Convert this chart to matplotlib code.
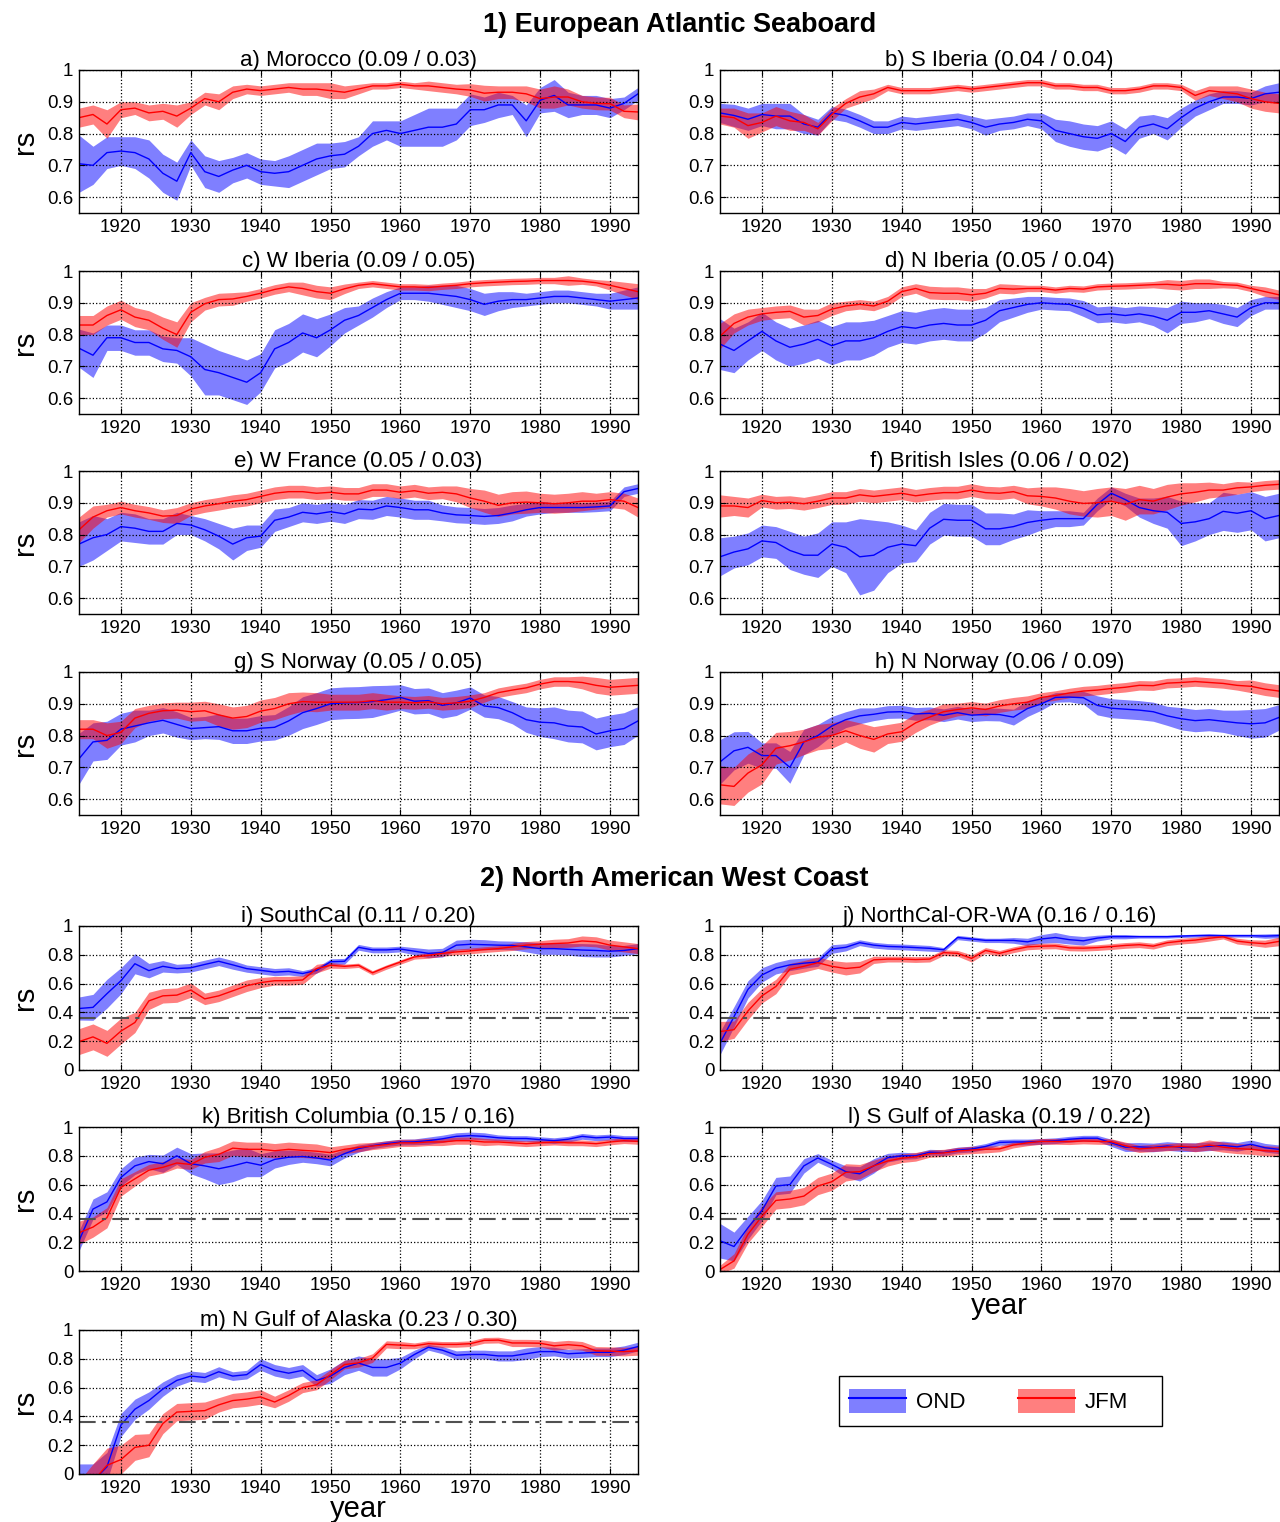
import matplotlib
matplotlib.use("Agg")
import matplotlib.pyplot as plt
import numpy as np
from matplotlib.patches import Patch, Rectangle
from matplotlib.lines import Line2D

plt.rcParams['font.family'] = ['Liberation Sans', 'DejaVu Sans']

# years sampled every 2 years, 1914..1994
years = np.arange(1914, 1995, 2)

# ---- 1) European Atlantic Seaboard ----
a_ond = [0.705, 0.70, 0.74, 0.745, 0.74, 0.72, 0.675, 0.65, 0.74, 0.68, 0.665, 0.685, 0.70, 0.68, 0.675, 0.68, 0.70, 0.72, 0.73, 0.735, 0.76,
         0.80, 0.81, 0.80, 0.81, 0.82, 0.82, 0.83, 0.875, 0.875, 0.89, 0.89, 0.84, 0.905, 0.92, 0.89, 0.89, 0.89, 0.88, 0.895, 0.925]
a_ond_hw = [0.09, 0.06, 0.05, 0.045, 0.05, 0.06, 0.06, 0.06, 0.04, 0.05, 0.05, 0.04, 0.04, 0.04, 0.04, 0.05, 0.05, 0.05, 0.04, 0.04, 0.03,
            0.04, 0.03, 0.04, 0.05, 0.06, 0.06, 0.05, 0.05, 0.04, 0.04, 0.03, 0.05, 0.04, 0.05, 0.04, 0.03, 0.03, 0.03, 0.02, 0.02]
a_jfm = [0.85, 0.86, 0.83, 0.875, 0.88, 0.865, 0.87, 0.855, 0.88, 0.91, 0.90, 0.93, 0.94, 0.935, 0.94, 0.945, 0.94, 0.94, 0.935, 0.93, 0.94,
         0.95, 0.95, 0.955, 0.95, 0.95, 0.945, 0.94, 0.937, 0.927, 0.93, 0.93, 0.925, 0.91, 0.915, 0.915, 0.90, 0.895, 0.894, 0.87, 0.868]
a_jfm_hw = [0.03, 0.03, 0.045, 0.025, 0.02, 0.025, 0.025, 0.035, 0.02, 0.02, 0.025, 0.02, 0.015, 0.015, 0.015, 0.015, 0.02, 0.02, 0.025, 0.02, 0.015,
            0.01, 0.01, 0.01, 0.01, 0.015, 0.015, 0.015, 0.02, 0.025, 0.02, 0.02, 0.025, 0.03, 0.035, 0.025, 0.02, 0.02, 0.02, 0.02, 0.025]

b_ond = [0.865, 0.857, 0.845, 0.86, 0.855, 0.855, 0.83, 0.82, 0.865, 0.857, 0.84, 0.82, 0.82, 0.835, 0.83, 0.835, 0.84, 0.845, 0.835, 0.82, 0.83,
         0.835, 0.845, 0.84, 0.81, 0.80, 0.79, 0.785, 0.80, 0.775, 0.82, 0.83, 0.815, 0.85, 0.88, 0.90, 0.915, 0.915, 0.91, 0.925, 0.93]
b_ond_hw = [0.03, 0.035, 0.035, 0.035, 0.04, 0.04, 0.03, 0.025, 0.02, 0.02, 0.02, 0.02, 0.02, 0.02, 0.02, 0.02, 0.02, 0.02, 0.02, 0.025, 0.02,
            0.02, 0.02, 0.025, 0.035, 0.04, 0.04, 0.04, 0.04, 0.04, 0.035, 0.03, 0.035, 0.03, 0.025, 0.025, 0.02, 0.02, 0.02, 0.025, 0.03]
b_jfm = [0.855, 0.85, 0.825, 0.835, 0.855, 0.84, 0.835, 0.815, 0.86, 0.895, 0.915, 0.925, 0.945, 0.935, 0.935, 0.935, 0.94, 0.945, 0.94, 0.945, 0.95,
         0.955, 0.96, 0.96, 0.95, 0.95, 0.945, 0.945, 0.935, 0.935, 0.94, 0.95, 0.95, 0.945, 0.92, 0.935, 0.93, 0.925, 0.91, 0.90, 0.895]
b_jfm_hw = [0.025, 0.03, 0.04, 0.03, 0.03, 0.03, 0.025, 0.02, 0.02, 0.015, 0.02, 0.015, 0.01, 0.01, 0.01, 0.01, 0.01, 0.01, 0.01, 0.01, 0.01,
            0.01, 0.01, 0.01, 0.01, 0.01, 0.01, 0.01, 0.01, 0.01, 0.01, 0.01, 0.01, 0.01, 0.015, 0.015, 0.02, 0.025, 0.03, 0.03, 0.03]

c_ond = [0.757, 0.735, 0.79, 0.79, 0.775, 0.775, 0.755, 0.75, 0.73, 0.69, 0.68, 0.665, 0.65, 0.68, 0.755, 0.775, 0.805, 0.79, 0.815, 0.845, 0.86,
         0.885, 0.91, 0.93, 0.93, 0.93, 0.925, 0.92, 0.91, 0.895, 0.905, 0.91, 0.91, 0.915, 0.92, 0.92, 0.915, 0.91, 0.905, 0.91, 0.915]
c_ond_hw = [0.06, 0.07, 0.04, 0.04, 0.04, 0.04, 0.04, 0.04, 0.06, 0.08, 0.07, 0.07, 0.07, 0.06, 0.06, 0.06, 0.06, 0.06, 0.05, 0.04, 0.03,
            0.03, 0.025, 0.02, 0.02, 0.025, 0.03, 0.035, 0.035, 0.035, 0.03, 0.025, 0.02, 0.02, 0.02, 0.02, 0.02, 0.02, 0.025, 0.03, 0.035]
c_jfm = [0.83, 0.83, 0.86, 0.878, 0.855, 0.845, 0.82, 0.80, 0.87, 0.897, 0.91, 0.912, 0.92, 0.93, 0.942, 0.95, 0.945, 0.935, 0.93, 0.944, 0.955,
         0.96, 0.955, 0.95, 0.95, 0.948, 0.952, 0.955, 0.96, 0.963, 0.965, 0.967, 0.968, 0.97, 0.97, 0.97, 0.968, 0.963, 0.955, 0.945, 0.935]
c_jfm_hw = [0.03, 0.03, 0.03, 0.03, 0.03, 0.03, 0.035, 0.04, 0.03, 0.02, 0.02, 0.02, 0.015, 0.015, 0.015, 0.015, 0.02, 0.02, 0.02, 0.015, 0.01,
            0.01, 0.01, 0.01, 0.01, 0.01, 0.01, 0.01, 0.01, 0.01, 0.01, 0.01, 0.01, 0.01, 0.01, 0.015, 0.01, 0.01, 0.015, 0.02, 0.025]

d_ond = [0.77, 0.75, 0.78, 0.81, 0.78, 0.76, 0.77, 0.785, 0.765, 0.78, 0.78, 0.79, 0.81, 0.825, 0.82, 0.83, 0.835, 0.83, 0.83, 0.845, 0.875,
         0.885, 0.895, 0.90, 0.897, 0.895, 0.882, 0.862, 0.865, 0.86, 0.865, 0.858, 0.845, 0.87, 0.87, 0.875, 0.865, 0.855, 0.885, 0.90, 0.90]
d_ond_hw = [0.08, 0.07, 0.06, 0.06, 0.06, 0.06, 0.06, 0.06, 0.06, 0.06, 0.06, 0.055, 0.05, 0.05, 0.05, 0.05, 0.05, 0.05, 0.05, 0.04, 0.035,
            0.03, 0.025, 0.02, 0.02, 0.02, 0.025, 0.025, 0.025, 0.025, 0.025, 0.03, 0.04, 0.035, 0.03, 0.025, 0.03, 0.03, 0.025, 0.02, 0.02]
d_jfm = [0.795, 0.835, 0.855, 0.865, 0.87, 0.873, 0.855, 0.86, 0.88, 0.89, 0.895, 0.89, 0.905, 0.935, 0.945, 0.932, 0.93, 0.93, 0.925, 0.93, 0.945,
         0.943, 0.945, 0.945, 0.94, 0.945, 0.943, 0.95, 0.952, 0.953, 0.955, 0.957, 0.958, 0.955, 0.96, 0.96, 0.957, 0.955, 0.945, 0.935, 0.925]
d_jfm_hw = [0.04, 0.03, 0.025, 0.02, 0.02, 0.02, 0.025, 0.02, 0.02, 0.015, 0.015, 0.015, 0.015, 0.015, 0.015, 0.02, 0.02, 0.02, 0.02, 0.015, 0.015,
            0.015, 0.01, 0.01, 0.01, 0.01, 0.01, 0.01, 0.01, 0.01, 0.01, 0.01, 0.015, 0.015, 0.015, 0.015, 0.01, 0.01, 0.01, 0.015, 0.015]

e_ond = [0.77, 0.79, 0.80, 0.825, 0.82, 0.81, 0.81, 0.835, 0.83, 0.815, 0.795, 0.77, 0.79, 0.795, 0.845, 0.855, 0.87, 0.865, 0.872, 0.865, 0.88,
         0.878, 0.89, 0.885, 0.878, 0.878, 0.868, 0.862, 0.86, 0.857, 0.86, 0.868, 0.878, 0.885, 0.885, 0.885, 0.885, 0.887, 0.89, 0.935, 0.945]
e_ond_hw = [0.07, 0.07, 0.05, 0.045, 0.045, 0.04, 0.04, 0.035, 0.03, 0.035, 0.04, 0.05, 0.04, 0.035, 0.035, 0.03, 0.03, 0.03, 0.03, 0.03, 0.03,
            0.03, 0.03, 0.03, 0.03, 0.03, 0.025, 0.025, 0.025, 0.025, 0.025, 0.025, 0.02, 0.02, 0.015, 0.015, 0.015, 0.015, 0.015, 0.015, 0.015]
e_jfm = [0.815, 0.855, 0.875, 0.885, 0.875, 0.868, 0.858, 0.86, 0.88, 0.89, 0.897, 0.905, 0.91, 0.92, 0.93, 0.935, 0.935, 0.93, 0.933, 0.928, 0.928,
         0.94, 0.94, 0.933, 0.938, 0.93, 0.933, 0.928, 0.915, 0.905, 0.892, 0.90, 0.902, 0.90, 0.897, 0.90, 0.905, 0.905, 0.91, 0.905, 0.885]
e_jfm_hw = [0.04, 0.035, 0.02, 0.02, 0.02, 0.02, 0.02, 0.025, 0.02, 0.02, 0.02, 0.02, 0.02, 0.02, 0.02, 0.02, 0.02, 0.02, 0.02, 0.02, 0.02,
            0.02, 0.02, 0.02, 0.02, 0.02, 0.02, 0.025, 0.03, 0.035, 0.035, 0.035, 0.035, 0.03, 0.03, 0.03, 0.03, 0.025, 0.025, 0.025, 0.03]

f_ond = [0.73, 0.745, 0.755, 0.78, 0.775, 0.75, 0.735, 0.735, 0.77, 0.76, 0.73, 0.735, 0.76, 0.77, 0.765, 0.82, 0.848, 0.845, 0.845, 0.818, 0.818,
         0.825, 0.838, 0.845, 0.85, 0.85, 0.85, 0.895, 0.93, 0.91, 0.885, 0.875, 0.87, 0.835, 0.84, 0.85, 0.873, 0.867, 0.875, 0.85, 0.86]
f_ond_hw = [0.06, 0.05, 0.05, 0.05, 0.05, 0.06, 0.06, 0.07, 0.07, 0.08, 0.12, 0.11, 0.08, 0.06, 0.05, 0.05, 0.05, 0.05, 0.05, 0.05, 0.05,
            0.04, 0.04, 0.03, 0.025, 0.025, 0.02, 0.02, 0.02, 0.02, 0.03, 0.04, 0.05, 0.07, 0.06, 0.05, 0.06, 0.06, 0.06, 0.07, 0.07]
f_jfm = [0.89, 0.89, 0.885, 0.907, 0.90, 0.902, 0.897, 0.905, 0.915, 0.915, 0.925, 0.92, 0.925, 0.93, 0.922, 0.928, 0.932, 0.932, 0.94, 0.932, 0.93,
         0.935, 0.922, 0.92, 0.915, 0.905, 0.898, 0.90, 0.905, 0.895, 0.91, 0.905, 0.918, 0.928, 0.933, 0.94, 0.94, 0.947, 0.95, 0.955, 0.958]
f_jfm_hw = [0.035, 0.03, 0.03, 0.02, 0.02, 0.02, 0.02, 0.02, 0.02, 0.02, 0.02, 0.02, 0.02, 0.02, 0.02, 0.02, 0.02, 0.02, 0.02, 0.02, 0.02,
            0.02, 0.025, 0.03, 0.035, 0.04, 0.04, 0.045, 0.045, 0.05, 0.045, 0.04, 0.04, 0.035, 0.03, 0.025, 0.02, 0.02, 0.015, 0.015, 0.015]

g_ond = [0.727, 0.78, 0.785, 0.82, 0.83, 0.84, 0.848, 0.835, 0.822, 0.825, 0.828, 0.815, 0.815, 0.823, 0.826, 0.846, 0.872, 0.885, 0.90, 0.903, 0.904,
         0.907, 0.913, 0.92, 0.908, 0.91, 0.895, 0.903, 0.918, 0.893, 0.888, 0.872, 0.85, 0.842, 0.84, 0.83, 0.827, 0.805, 0.815, 0.822, 0.846]
g_ond_hw = [0.08, 0.06, 0.06, 0.05, 0.05, 0.04, 0.04, 0.04, 0.035, 0.035, 0.04, 0.04, 0.04, 0.04, 0.04, 0.045, 0.05, 0.05, 0.05, 0.05, 0.05,
            0.05, 0.045, 0.04, 0.04, 0.04, 0.04, 0.04, 0.035, 0.035, 0.035, 0.035, 0.04, 0.045, 0.05, 0.05, 0.05, 0.05, 0.05, 0.05, 0.045]
g_jfm = [0.82, 0.82, 0.80, 0.81, 0.855, 0.87, 0.878, 0.88, 0.875, 0.878, 0.865, 0.855, 0.86, 0.877, 0.885, 0.90, 0.907, 0.905, 0.905, 0.905, 0.905,
         0.91, 0.905, 0.905, 0.903, 0.906, 0.90, 0.903, 0.908, 0.92, 0.935, 0.943, 0.95, 0.962, 0.97, 0.97, 0.967, 0.958, 0.952, 0.955, 0.958]
g_jfm_hw = [0.03, 0.03, 0.04, 0.035, 0.03, 0.025, 0.025, 0.025, 0.03, 0.03, 0.035, 0.035, 0.035, 0.035, 0.035, 0.035, 0.03, 0.03, 0.025, 0.025, 0.025,
            0.025, 0.025, 0.02, 0.02, 0.02, 0.02, 0.02, 0.02, 0.015, 0.015, 0.015, 0.015, 0.015, 0.015, 0.015, 0.02, 0.025, 0.025, 0.025, 0.025]

h_ond = [0.717, 0.752, 0.763, 0.737, 0.737, 0.70, 0.78, 0.80, 0.83, 0.85, 0.862, 0.867, 0.874, 0.875, 0.868, 0.87, 0.864, 0.872, 0.864, 0.867, 0.866,
         0.858, 0.885, 0.90, 0.92, 0.921, 0.919, 0.895, 0.886, 0.883, 0.88, 0.875, 0.862, 0.853, 0.847, 0.85, 0.845, 0.84, 0.837, 0.84, 0.857]
h_ond_hw = [0.07, 0.06, 0.05, 0.04, 0.04, 0.05, 0.04, 0.035, 0.03, 0.025, 0.025, 0.02, 0.02, 0.02, 0.02, 0.02, 0.02, 0.02, 0.02, 0.02, 0.02,
            0.025, 0.025, 0.02, 0.015, 0.015, 0.02, 0.03, 0.03, 0.03, 0.03, 0.03, 0.03, 0.035, 0.035, 0.035, 0.035, 0.04, 0.045, 0.045, 0.04]
h_jfm = [0.645, 0.64, 0.682, 0.708, 0.76, 0.768, 0.78, 0.795, 0.80, 0.815, 0.80, 0.788, 0.805, 0.812, 0.84, 0.858, 0.875, 0.882, 0.887, 0.882, 0.893,
         0.90, 0.905, 0.92, 0.926, 0.934, 0.94, 0.943, 0.948, 0.952, 0.958, 0.957, 0.965, 0.967, 0.97, 0.967, 0.964, 0.958, 0.955, 0.946, 0.94]
h_jfm_hw = [0.06, 0.06, 0.06, 0.06, 0.05, 0.045, 0.04, 0.04, 0.04, 0.035, 0.04, 0.04, 0.03, 0.03, 0.03, 0.025, 0.025, 0.02, 0.02, 0.02, 0.02,
            0.02, 0.02, 0.015, 0.015, 0.015, 0.015, 0.015, 0.015, 0.015, 0.015, 0.015, 0.015, 0.015, 0.015, 0.015, 0.015, 0.015, 0.02, 0.02, 0.02]

# ---- 2) North American West Coast ----
i_ond = [0.427, 0.435, 0.53, 0.62, 0.738, 0.69, 0.72, 0.704, 0.71, 0.733, 0.755, 0.73, 0.704, 0.692, 0.68, 0.685, 0.67, 0.692, 0.752, 0.755, 0.852,
         0.834, 0.834, 0.84, 0.825, 0.81, 0.815, 0.867, 0.873, 0.87, 0.867, 0.865, 0.855, 0.843, 0.843, 0.838, 0.833, 0.83, 0.825, 0.83, 0.843]
i_ond_hw = [0.08, 0.09, 0.10, 0.09, 0.07, 0.05, 0.04, 0.03, 0.03, 0.03, 0.03, 0.03, 0.025, 0.025, 0.025, 0.025, 0.02, 0.02, 0.02, 0.02, 0.02,
            0.02, 0.02, 0.02, 0.025, 0.03, 0.03, 0.035, 0.035, 0.035, 0.03, 0.03, 0.035, 0.04, 0.04, 0.04, 0.045, 0.045, 0.04, 0.035, 0.035]
i_jfm = [0.197, 0.23, 0.185, 0.27, 0.33, 0.48, 0.515, 0.52, 0.555, 0.494, 0.515, 0.55, 0.585, 0.607, 0.62, 0.62, 0.625, 0.704, 0.727, 0.72, 0.727,
         0.675, 0.715, 0.75, 0.785, 0.796, 0.81, 0.82, 0.827, 0.836, 0.843, 0.855, 0.867, 0.873, 0.878, 0.882, 0.896, 0.89, 0.867, 0.855, 0.843]
i_jfm_hw = [0.09, 0.09, 0.09, 0.09, 0.07, 0.06, 0.05, 0.05, 0.05, 0.04, 0.04, 0.04, 0.04, 0.035, 0.03, 0.03, 0.03, 0.03, 0.02, 0.015, 0.015,
            0.015, 0.015, 0.015, 0.015, 0.02, 0.02, 0.02, 0.02, 0.02, 0.02, 0.025, 0.025, 0.025, 0.03, 0.03, 0.035, 0.035, 0.035, 0.035, 0.035]

j_ond = [0.186, 0.37, 0.56, 0.66, 0.707, 0.73, 0.742, 0.75, 0.84, 0.852, 0.884, 0.867, 0.858, 0.855, 0.85, 0.845, 0.835, 0.92, 0.91, 0.90, 0.90,
         0.90, 0.89, 0.91, 0.92, 0.905, 0.897, 0.916, 0.926, 0.926, 0.926, 0.926, 0.926, 0.93, 0.933, 0.935, 0.933, 0.933, 0.933, 0.93, 0.933]
j_ond_hw = [0.08, 0.07, 0.06, 0.05, 0.04, 0.04, 0.035, 0.03, 0.03, 0.025, 0.02, 0.02, 0.02, 0.02, 0.02, 0.02, 0.015, 0.015, 0.015, 0.015, 0.015,
            0.02, 0.025, 0.03, 0.035, 0.03, 0.03, 0.02, 0.015, 0.015, 0.01, 0.01, 0.01, 0.01, 0.01, 0.01, 0.01, 0.01, 0.01, 0.015, 0.015]
j_jfm = [0.267, 0.28, 0.41, 0.515, 0.58, 0.70, 0.72, 0.745, 0.72, 0.705, 0.714, 0.765, 0.77, 0.77, 0.767, 0.77, 0.815, 0.81, 0.775, 0.83, 0.81,
         0.835, 0.855, 0.86, 0.862, 0.848, 0.846, 0.85, 0.857, 0.865, 0.87, 0.86, 0.884, 0.895, 0.902, 0.915, 0.925, 0.895, 0.884, 0.877, 0.893]
j_jfm_hw = [0.07, 0.06, 0.06, 0.05, 0.05, 0.04, 0.04, 0.04, 0.04, 0.045, 0.04, 0.025, 0.02, 0.02, 0.02, 0.02, 0.02, 0.02, 0.025, 0.02, 0.02,
            0.02, 0.02, 0.02, 0.02, 0.02, 0.02, 0.02, 0.02, 0.02, 0.02, 0.02, 0.02, 0.02, 0.02, 0.02, 0.015, 0.02, 0.02, 0.025, 0.03]

k_ond = [0.21, 0.43, 0.48, 0.65, 0.73, 0.76, 0.745, 0.80, 0.745, 0.73, 0.71, 0.73, 0.755, 0.735, 0.775, 0.79, 0.795, 0.785, 0.77, 0.815, 0.85,
         0.87, 0.885, 0.895, 0.897, 0.905, 0.918, 0.935, 0.94, 0.935, 0.925, 0.92, 0.92, 0.912, 0.905, 0.915, 0.935, 0.925, 0.93, 0.92, 0.92]
k_ond_hw = [0.07, 0.07, 0.07, 0.06, 0.06, 0.05, 0.06, 0.06, 0.07, 0.09, 0.11, 0.11, 0.10, 0.08, 0.06, 0.05, 0.04, 0.04, 0.04, 0.03, 0.025,
            0.02, 0.02, 0.02, 0.02, 0.025, 0.025, 0.025, 0.025, 0.025, 0.02, 0.02, 0.02, 0.02, 0.02, 0.02, 0.02, 0.02, 0.02, 0.02, 0.02]
k_jfm = [0.266, 0.305, 0.37, 0.58, 0.64, 0.70, 0.72, 0.75, 0.74, 0.79, 0.81, 0.853, 0.845, 0.845, 0.835, 0.845, 0.838, 0.832, 0.822, 0.845, 0.858,
         0.868, 0.878, 0.89, 0.89, 0.896, 0.896, 0.905, 0.905, 0.896, 0.896, 0.89, 0.884, 0.89, 0.895, 0.89, 0.89, 0.884, 0.896, 0.905, 0.90]
k_jfm_hw = [0.08, 0.07, 0.07, 0.06, 0.05, 0.04, 0.04, 0.035, 0.035, 0.04, 0.05, 0.05, 0.05, 0.05, 0.05, 0.05, 0.05, 0.05, 0.04, 0.03, 0.03,
            0.025, 0.025, 0.025, 0.025, 0.025, 0.025, 0.025, 0.025, 0.025, 0.02, 0.02, 0.02, 0.02, 0.02, 0.02, 0.02, 0.02, 0.02, 0.02, 0.02]

l_ond = [0.21, 0.17, 0.30, 0.42, 0.59, 0.60, 0.73, 0.785, 0.74, 0.69, 0.675, 0.73, 0.787, 0.80, 0.80, 0.825, 0.822, 0.84, 0.847, 0.865, 0.893,
         0.896, 0.896, 0.90, 0.905, 0.915, 0.922, 0.922, 0.89, 0.86, 0.862, 0.858, 0.868, 0.86, 0.86, 0.866, 0.872, 0.862, 0.88, 0.856, 0.845]
l_ond_hw = [0.12, 0.10, 0.08, 0.07, 0.06, 0.06, 0.05, 0.03, 0.03, 0.04, 0.05, 0.05, 0.03, 0.025, 0.02, 0.02, 0.02, 0.02, 0.02, 0.02, 0.02,
            0.02, 0.02, 0.02, 0.02, 0.02, 0.02, 0.02, 0.025, 0.03, 0.03, 0.03, 0.03, 0.03, 0.03, 0.03, 0.03, 0.03, 0.03, 0.03, 0.03]
l_jfm = [0.01, 0.07, 0.255, 0.38, 0.49, 0.50, 0.52, 0.59, 0.62, 0.685, 0.69, 0.73, 0.764, 0.783, 0.793, 0.815, 0.82, 0.833, 0.84, 0.845, 0.848,
         0.875, 0.89, 0.90, 0.90, 0.898, 0.903, 0.90, 0.898, 0.87, 0.848, 0.855, 0.86, 0.866, 0.858, 0.875, 0.86, 0.85, 0.845, 0.835, 0.83]
l_jfm_hw = [0.03, 0.05, 0.06, 0.07, 0.06, 0.06, 0.06, 0.06, 0.06, 0.06, 0.05, 0.04, 0.035, 0.03, 0.03, 0.025, 0.025, 0.025, 0.025, 0.025, 0.02,
            0.02, 0.02, 0.02, 0.02, 0.02, 0.02, 0.02, 0.02, 0.025, 0.025, 0.025, 0.025, 0.025, 0.03, 0.035, 0.035, 0.035, 0.035, 0.035, 0.035]

m_ond = [-0.05, -0.05, 0.05, 0.34, 0.45, 0.51, 0.59, 0.65, 0.68, 0.67, 0.71, 0.68, 0.69, 0.76, 0.72, 0.70, 0.72, 0.65, 0.68, 0.74, 0.77,
         0.74, 0.74, 0.77, 0.83, 0.88, 0.86, 0.825, 0.83, 0.83, 0.82, 0.82, 0.835, 0.85, 0.85, 0.835, 0.84, 0.845, 0.845, 0.86, 0.885]
m_ond_hw = [0.12, 0.12, 0.10, 0.08, 0.07, 0.06, 0.05, 0.04, 0.035, 0.035, 0.035, 0.03, 0.03, 0.04, 0.04, 0.04, 0.04, 0.04, 0.05, 0.05, 0.05,
            0.06, 0.06, 0.04, 0.03, 0.02, 0.025, 0.03, 0.03, 0.03, 0.035, 0.035, 0.04, 0.035, 0.03, 0.03, 0.03, 0.03, 0.03, 0.03, 0.03]
m_jfm = [-0.15, -0.05, 0.06, 0.10, 0.185, 0.20, 0.35, 0.43, 0.435, 0.44, 0.48, 0.51, 0.52, 0.535, 0.50, 0.545, 0.60, 0.62, 0.69, 0.76, 0.772,
         0.805, 0.90, 0.895, 0.89, 0.905, 0.90, 0.90, 0.905, 0.928, 0.93, 0.91, 0.91, 0.908, 0.89, 0.898, 0.89, 0.855, 0.853, 0.85, 0.855]
m_jfm_hw = [0.10, 0.12, 0.12, 0.10, 0.09, 0.08, 0.07, 0.06, 0.06, 0.06, 0.05, 0.05, 0.05, 0.05, 0.04, 0.04, 0.035, 0.035, 0.035, 0.03, 0.03,
            0.03, 0.025, 0.025, 0.02, 0.02, 0.02, 0.02, 0.02, 0.02, 0.02, 0.025, 0.025, 0.025, 0.03, 0.03, 0.03, 0.03, 0.03, 0.03, 0.03]

titles = ['a) Morocco (0.09 / 0.03)', 'b) S Iberia (0.04 / 0.04)', 'c) W Iberia (0.09 / 0.05)', 'd) N Iberia (0.05 / 0.04)',
          'e) W France (0.05 / 0.03)', 'f) British Isles (0.06 / 0.02)', 'g) S Norway (0.05 / 0.05)', 'h) N Norway (0.06 / 0.09)',
          'i) SouthCal (0.11 / 0.20)', 'j) NorthCal-OR-WA (0.16 / 0.16)', 'k) British Columbia (0.15 / 0.16)',
          'l) S Gulf of Alaska (0.19 / 0.22)', 'm) N Gulf of Alaska (0.23 / 0.30)']
ond_series = [a_ond, b_ond, c_ond, d_ond, e_ond, f_ond, g_ond, h_ond, i_ond, j_ond, k_ond, l_ond, m_ond]
ond_width = [a_ond_hw, b_ond_hw, c_ond_hw, d_ond_hw, e_ond_hw, f_ond_hw, g_ond_hw, h_ond_hw, i_ond_hw, j_ond_hw, k_ond_hw, l_ond_hw, m_ond_hw]
jfm_series = [a_jfm, b_jfm, c_jfm, d_jfm, e_jfm, f_jfm, g_jfm, h_jfm, i_jfm, j_jfm, k_jfm, l_jfm, m_jfm]
jfm_width = [a_jfm_hw, b_jfm_hw, c_jfm_hw, d_jfm_hw, e_jfm_hw, f_jfm_hw, g_jfm_hw, h_jfm_hw, i_jfm_hw, j_jfm_hw, k_jfm_hw, l_jfm_hw, m_jfm_hw]

sig_level = 0.36
xticks = [1920, 1930, 1940, 1950, 1960, 1970, 1980, 1990]
yticks_eu = [0.6, 0.7, 0.8, 0.9, 1.0]
yticks_na = [0, 0.2, 0.4, 0.6, 0.8, 1.0]

W, H = 1280, 1522
fig = plt.figure(figsize=(W / 100, H / 100), dpi=100)

col_x = [79, 720]
col_w = 559
row_px = [(70, 213), (271, 414), (471, 614), (672, 815), (926, 1070), (1127, 1271), (1330, 1474)]

FS_TICK = 13.5
FS_TITLE = 16
FS_LAB = 21


def draw_panel(k, row, col):
    top, bot = row_px[row]
    ax = fig.add_axes([col_x[col] / W, 1 - bot / H, col_w / W, (bot - top) / H])
    ond = np.array(ond_series[k])
    jfm = np.array(jfm_series[k])
    ow = np.array(ond_width[k])
    jw = np.array(jfm_width[k])
    ax.fill_between(years, ond - ow, ond + ow, color='blue', alpha=0.5, lw=0)
    ax.fill_between(years, jfm - jw, jfm + jw, color='red', alpha=0.5, lw=0)
    ax.plot(years, ond, color='blue', lw=1.0)
    ax.plot(years, jfm, color='red', lw=1.0)
    ax.set_xlim(1914, 1994)
    if k < 8:
        ax.set_ylim(0.55, 1.0)
        ax.set_yticks(yticks_eu)
    else:
        ax.set_ylim(0, 1.0)
        ax.set_yticks(yticks_na)
        ax.axhline(sig_level, color='#505050', lw=1.5, dashes=(8, 3, 2, 3))
    ax.set_yticklabels(['%g' % v for v in ax.get_yticks()])
    ax.set_xticks(xticks)
    ax.grid(True, color='black', ls=':', lw=0.9)
    ax.tick_params(direction='in', top=True, right=True, labelsize=FS_TICK, length=4, pad=4)
    for s in ax.spines.values():
        s.set_linewidth(1.0)
    ax.set_title(titles[k], fontsize=FS_TITLE, pad=3)
    if col == 0:
        ax.set_ylabel('rs', fontsize=FS_LAB, labelpad=6)
    return ax


layout = [(0, 0, 0), (1, 0, 1), (2, 1, 0), (3, 1, 1), (4, 2, 0), (5, 2, 1), (6, 3, 0), (7, 3, 1),
          (8, 4, 0), (9, 4, 1), (10, 5, 0), (11, 5, 1), (12, 6, 0)]
axes = {}
for k, r, c in layout:
    axes[k] = draw_panel(k, r, c)

axes[11].set_xlabel('year', fontsize=FS_LAB, labelpad=-1)
axes[12].set_xlabel('year', fontsize=FS_LAB, labelpad=-1)

fig.text(680 / W, 1 - 25 / H, '1) European Atlantic Seaboard', ha='center', va='center',
         fontsize=19.5, fontweight='bold')
fig.text(674 / W, 1 - 879 / H, '2) North American West Coast', ha='center', va='center',
         fontsize=19.5, fontweight='bold')

# legend: frame drawn separately so its padding matches the original
fig.patches.append(Rectangle((839 / W, 1 - 1426 / H), 323 / W, 50 / H, transform=fig.transFigure,
                             facecolor='white', edgecolor='black', lw=1.0, zorder=1))
h_ond = (Patch(facecolor='blue', alpha=0.5, lw=0), Line2D([], [], color='blue', lw=1.5))
h_jfm = (Patch(facecolor='red', alpha=0.5, lw=0), Line2D([], [], color='red', lw=1.5))
leg = fig.legend([h_ond, h_jfm], ['OND', 'JFM'], loc='center left', ncol=2,
                 bbox_to_anchor=(849 / W, 1 - 1401 / H), fontsize=16, frameon=False,
                 handlelength=2.57, handleheight=1.35, columnspacing=2.34,
                 handletextpad=0.45, borderpad=0, borderaxespad=0)
leg.set_zorder(3)

fig.savefig('out.png', dpi=100)
